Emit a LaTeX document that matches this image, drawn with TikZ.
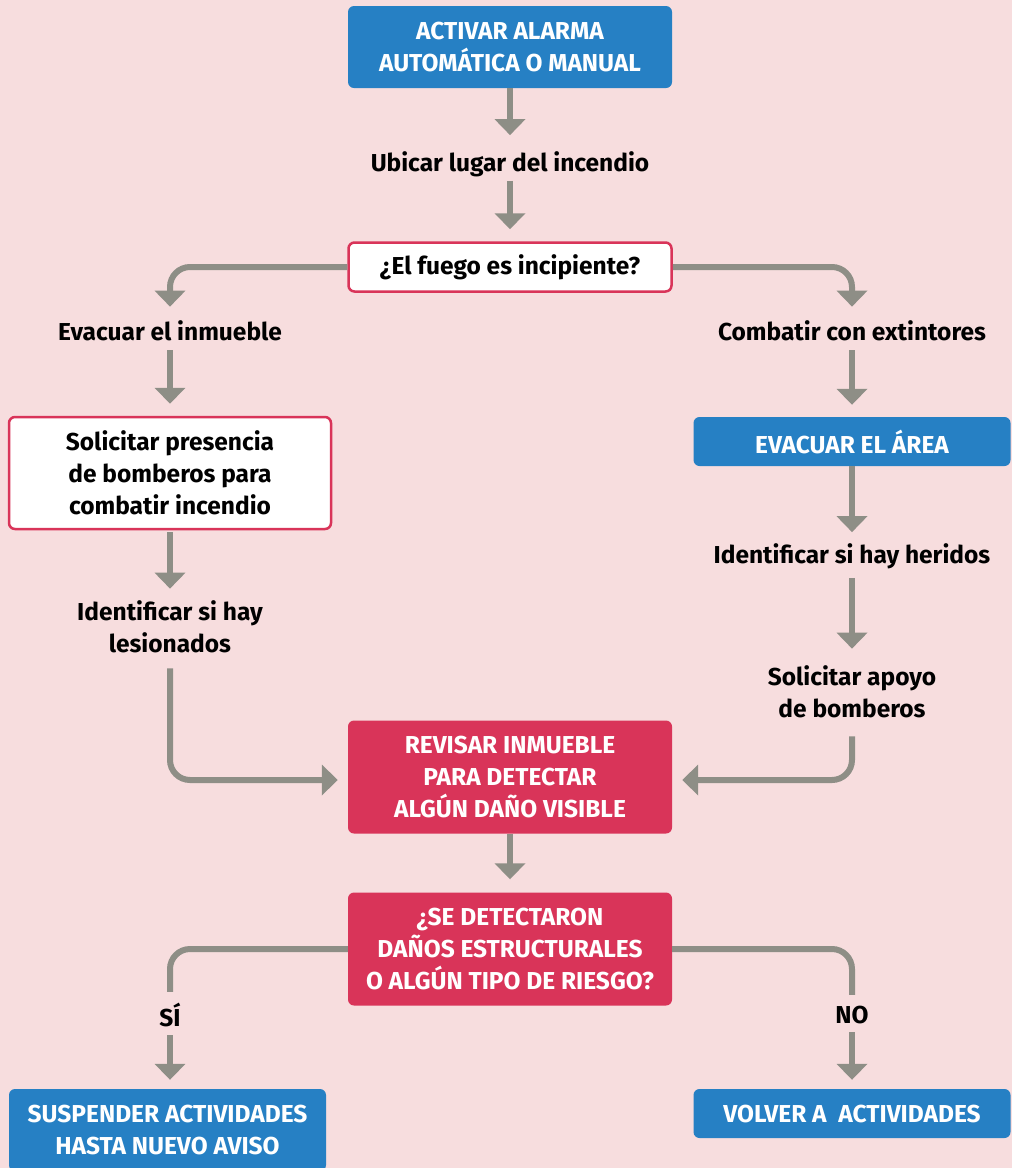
\documentclass[tikz,border=0pt]{standalone}
\usepackage{fontspec}
\setmainfont{Fira Sans}
\usetikzlibrary{arrows.meta,positioning}
\definecolor{fondo}{RGB}{247,221,222}
\definecolor{azul}{RGB}{38,128,196}
\definecolor{rojo}{RGB}{217,52,89}
\definecolor{gris}{RGB}{142,142,134}
\tikzset{
  caja/.style={rectangle,rounded corners=6pt,align=center,inner sep=0pt,
    font=\bfseries\fontsize{24.5}{32}\selectfont},
  azulbox/.style={caja,fill=azul,text=white},
  rojobox/.style={caja,fill=rojo,text=white},
  blancabox/.style={caja,fill=white,draw=rojo,line width=2.5pt,text=black},
  texto/.style={align=center,inner sep=0pt,text=black,
    font=\bfseries\fontsize{24.5}{32}\selectfont},
  flecha/.style={draw=gris,line width=6pt,rounded corners=20pt,
    -{Triangle[width=30pt,length=16pt]}},
  linea/.style={draw=gris,line width=6pt,rounded corners=20pt},
}
\begin{document}
\begin{tikzpicture}[x=1pt,y=-1pt]
\useasboundingbox[fill=fondo](0,0)rectangle(1012,1168);
%boxes and texts
\node[azulbox,minimum width=324,minimum height=82](alarma)at(510,47){ACTIVAR ALARMA\\AUTOMÁTICA O MANUAL};
\node[texto](ubicar)at(510,164){Ubicar lugar del incendio};
\node[blancabox,minimum width=323,minimum height=49](fuego)at(510,267){¿El fuego es incipiente?};
\node[texto](evacuar)at(170,331){Evacuar el inmueble};
\node[texto](combatir)at(852,331){Combatir con extintores};
\node[blancabox,minimum width=322,minimum height=112](solicitar)at(170,473){Solicitar presencia\\de bomberos para\\combatir incendio};
\node[azulbox,minimum width=317,minimum height=49](area)at(852,441.5){EVACUAR EL ÁREA};
\node[texto](lesion)at(170,627){Identificar si hay\\lesionados};
\node[texto](heridos)at(852,556){Identificar si hay heridos};
\node[texto](apoyo)at(852,692){Solicitar apoyo\\de bomberos};
\node[rojobox,minimum width=324,minimum height=113](revisar)at(510,777){REVISAR INMUEBLE\\PARA DETECTAR\\ALGÚN DAÑO VISIBLE};
\node[rojobox,minimum width=324,minimum height=113](danos)at(510,949){¿SE DETECTARON\\DAÑOS ESTRUCTURALES\\O ALGÚN TIPO DE RIESGO?};
\node[texto](si)at(170,1015){SÍ};
\node[texto](no)at(852,1015){NO};
\node[azulbox,minimum width=317,minimum height=82](suspender)at(167.5,1130){SUSPENDER ACTIVIDADES\\HASTA NUEVO AVISO};
\node[azulbox,minimum width=317,minimum height=49](volver)at(852,1113.5){VOLVER A\ \ ACTIVIDADES};
%arrows
\draw[flecha,shorten >=16pt](alarma)--(ubicar);
\draw[flecha,shorten <=4pt,shorten >=12pt](ubicar)--(fuego);
\draw[flecha,shorten >=14pt](fuego.west)-|(evacuar.north);
\draw[flecha,shorten >=14pt](fuego.east)-|(combatir.north);
\draw[flecha,shorten <=9pt,shorten >=12pt](evacuar)--(solicitar);
\draw[flecha,shorten <=9pt,shorten >=12pt](combatir)--(area);
\draw[flecha,shorten <=2pt,shorten >=12pt](solicitar)--(lesion);
\draw[flecha,shorten >=11pt](area)--(heridos);
\draw[flecha,shorten <=9pt,shorten >=17pt](heridos)--(apoyo);
\draw[flecha,shorten <=15pt,shorten >=10pt](lesion.south)|-([yshift=-3pt]revisar.west);
\draw[flecha,shorten <=18pt,shorten >=10pt](apoyo.south)|-([yshift=-3pt]revisar.east);
\draw[flecha,shorten >=13pt](revisar)--(danos);
\draw[linea,shorten >=11pt](danos.west)-|(si.north);
\draw[linea,shorten >=11pt](danos.east)-|(no.north);
\draw[flecha,shorten <=8pt,shorten >=9pt](si.south)--(si.south|-suspender.north);
\draw[flecha,shorten <=8pt,shorten >=9pt](no)--(volver);
\end{tikzpicture}
\end{document}
